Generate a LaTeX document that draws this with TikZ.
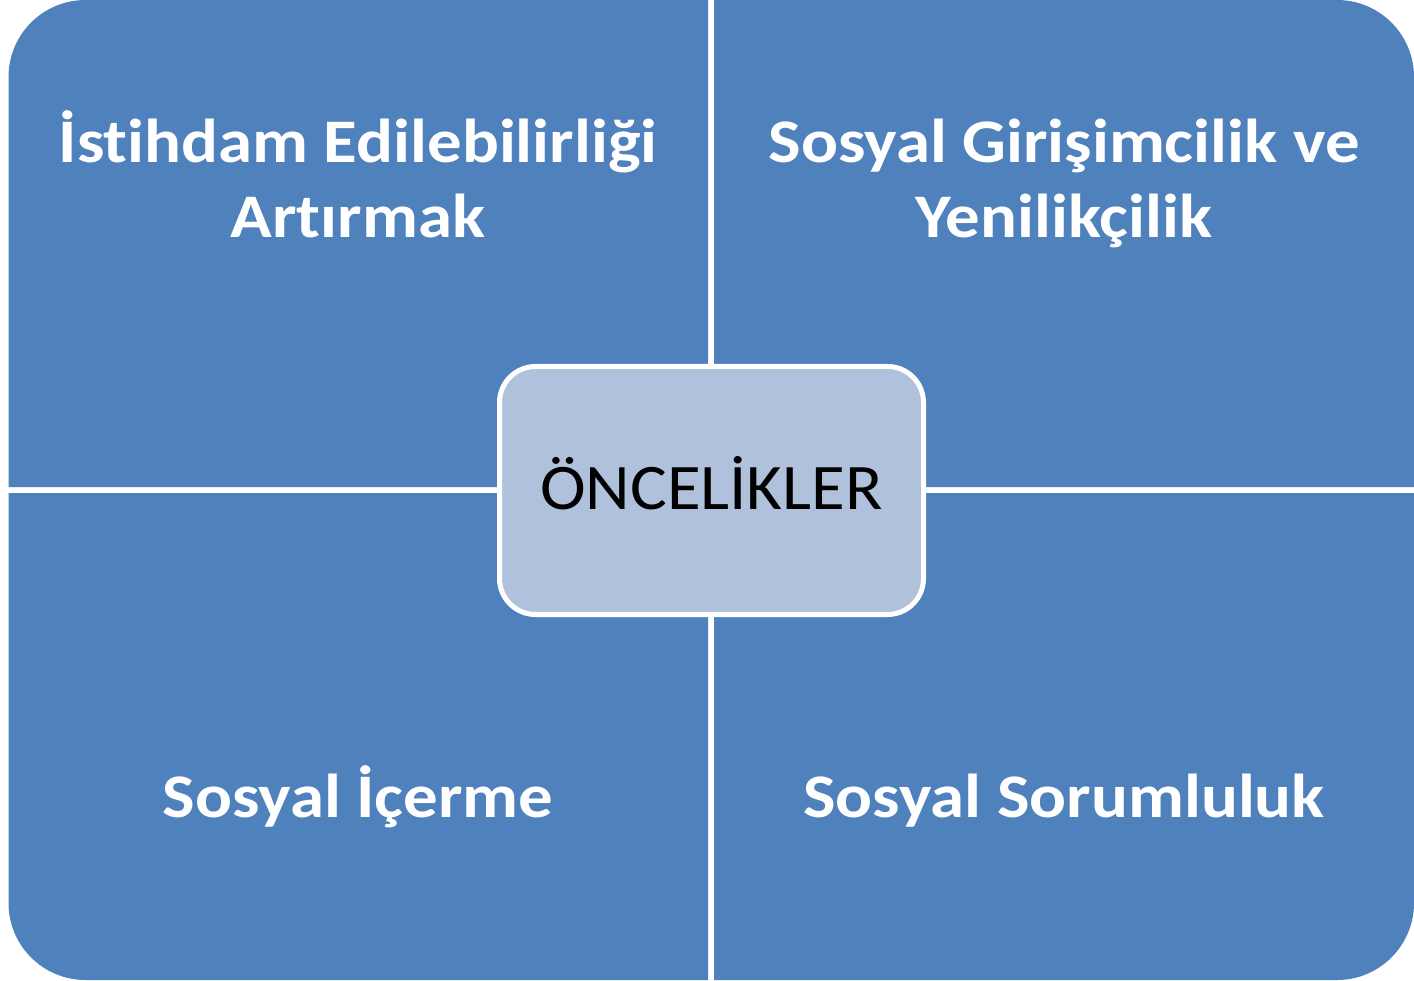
\documentclass[tikz,border=0pt]{standalone}
\usepackage{fontspec}
\setmainfont[Ligatures={NoCommon}]{Carlito}
\newfontfamily\quadfont[FakeStretch=1.11,Ligatures={NoCommon}]{Carlito}
\newfontfamily\centerfont[FakeStretch=1.06,Ligatures={NoCommon}]{Carlito}
\definecolor{quadblue}{HTML}{4F81BD}
\definecolor{centerfill}{HTML}{B0C1DC}
\tikzset{
  quad/.style={fill=quadblue, draw=none},
  quadtext/.style={text=white, font=\quadfont\fontsize{62}{75}\selectfont\bfseries, align=center, anchor=base, inner sep=0pt},
  centerbox/.style={fill=centerfill, draw=white, line width=5pt, rounded corners=36pt}
}
\begin{document}
\begin{tikzpicture}[x=1pt,y=-1pt]
\useasboundingbox (0,0) rectangle (1414,981);
% quadrants
\fill[quad] (8.5,487) -- (8.5,77) arc[start angle=180,end angle=270,radius=77] -- (708,0) -- (708,487) -- cycle;
\fill[quad] (714,487) -- (714,0) -- (1337,0) arc[start angle=270,end angle=360,radius=77] -- (1414,487) -- cycle;
\fill[quad] (8.5,493) -- (708,493) -- (708,980) -- (85.5,980) arc[start angle=90,end angle=180,radius=77] -- cycle;
\fill[quad] (714,493) -- (1414,493) -- (1414,903) arc[start angle=0,end angle=90,radius=77] -- (714,980) -- cycle;
% texts
\node[quadtext] (tl) at (358,238) {İstihdam Edilebilirliği\\Artırmak};
\node[quadtext] (tr) at (1064,238) {Sosyal Girişimcilik ve\\Yenilikçilik};
\node[quadtext] (bl) at (358,817) {Sosyal İçerme};
\node[quadtext] (br) at (1064,817) {Sosyal Sorumluluk};
% center
\node[centerbox, minimum width=424pt, minimum height=248pt, inner sep=0pt] (c) at (711.5,490.5) {};
\node[anchor=base, inner sep=0pt, font=\centerfont\fontsize{65}{78}\selectfont, text=black] (ct) at (711.5,509) {ÖNCELİKLER};
\end{tikzpicture}
\end{document}
